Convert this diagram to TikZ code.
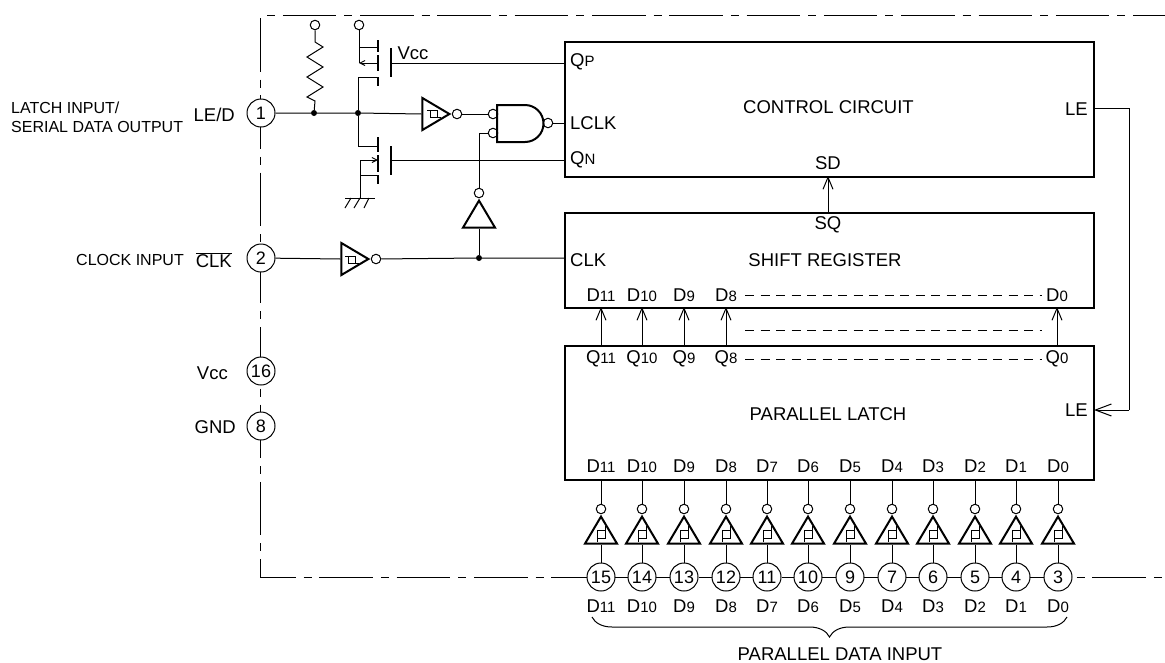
\documentclass[tikz,border=0pt]{standalone}
\usepackage{fontspec}
\setmainfont{Liberation Sans}
\usetikzlibrary{arrows.meta,positioning,calc,shapes.geometric,decorations.pathreplacing}
\newcommand{\lblsub}[2]{#1{\fontsize{15}{15}\selectfont #2}}
\tikzset{
  wire/.style={line width=1pt},
  bluebox/.style={draw, line width=2.4pt, anchor=north west, inner sep=0pt},
  pin/.style={draw, circle, fill=white, line width=1pt, minimum size=28pt, inner sep=0pt, font=\fontsize{18}{18}\selectfont},
  bubble/.style={draw, circle, fill=white, line width=1pt, minimum size=9.5pt, inner sep=0pt},
  joint/.style={circle, fill=black, minimum size=6pt, inner sep=0pt},
  lbl/.style={inner sep=0pt, font=\fontsize{18.5}{18.5}\selectfont},
  smalllbl/.style={inner sep=0pt, font=\fontsize{16}{16}\selectfont, anchor=west},
  buf/.style={draw, isosceles triangle, isosceles triangle stretches, line width=2pt, inner sep=0pt, minimum width=32pt, minimum height=27pt, fill=white},
  bar/.style={line width=1.8pt},
  barb/.style={-{Straight Barb[length=12pt,width=10pt,line width=1pt]}},
  dashrow/.style={wire, dash pattern=on 9pt off 6.5pt},
  outline/.style={wire, dash pattern=on 53.5pt off 8pt on 8pt off 7.8pt}
}
\begin{document}
\begin{tikzpicture}[x=1pt,y=-1pt]
  \useasboundingbox (0,0) rectangle (1165,662);
  % package outline
  \coordinate (tr) at (1165,15);
  \coordinate (tl) at (260,15);
  \coordinate (bl) at (260,577);
  \coordinate (br) at (1165,577);
  \draw[outline, dash phase=54.5pt] (tl) -- (tr);
  \draw[outline, dash phase=74.3pt] (tl) -- (bl) -- (br);

  % blocks
  \node[bluebox, minimum width=529pt, minimum height=135pt] (ctrl) at (564,40.5) {};
  \node[bluebox, minimum width=528.5pt, minimum height=95pt] (shift) at (564,212) {};
  \node[bluebox, minimum width=529pt, minimum height=134pt] (latch) at (564,345) {};
  \node[lbl] at (828.5,107) {CONTROL CIRCUIT};
  \node[lbl] at (825,260) {SHIFT REGISTER};
  \node[lbl] at (828,414) {PARALLEL LATCH};
  \node[lbl, anchor=west] at (570,62) {Q\lblsub{}{P}};
  \node[lbl, anchor=west] at (570,123) {LCLK};
  \node[lbl, anchor=west] at (570,160) {Q\lblsub{}{N}};
  \node[lbl, anchor=east] at (1088,109) {LE};
  \node[lbl] at (828,163) {SD};
  \node[lbl] at (828,225) {SQ};
  \node[lbl, anchor=west] at (570,260) {CLK};
  \node[lbl, anchor=east] at (1088,410) {LE};
  \node[lbl] at (413,53) {Vcc};

  % left pins
  \node[pin] (p1) at (261,113) {1};
  \node[pin] (p2) at (261,258) {2};
  \node[pin] (p16) at (261,371) {16};
  \node[pin] (p8) at (261,426) {8};
  \node[smalllbl] at (11,108) {LATCH INPUT/};
  \node[smalllbl] at (11,127) {SERIAL DATA OUTPUT};
  \node[lbl, anchor=east] at (235,115) {LE/D};
  \node[smalllbl, anchor=east] at (184,260) {CLOCK INPUT};
  \node[lbl, anchor=east] at (232,260) {$\overline{\mbox{CLK}}$};
  \node[lbl, anchor=east] at (228,373) {Vcc};
  \node[lbl, anchor=east] at (236,427) {GND};

  % pull-up resistor
  \node[bubble] (rtop) at (315,25) {};
  \node[joint] (j1) at (314,113) {};
  \node[joint] (j2) at (358,113) {};
  \draw[wire] (rtop) -- (315,42) -- (323,47) -- (307,57) -- (323,67) -- (307,77) -- (323,87) -- (307,97) -- (315,101) -- (j1);

  % output transistors
  \node[bubble] (ptop) at (359,25) {};
  \coordinate (pd) at (378,47);
  \coordinate (pb) at (378,63);
  \coordinate (ps) at (378,77);
  \coordinate (nd) at (378,146);
  \coordinate (nb) at (378,160);
  \coordinate (ns) at (378,175);
  \coordinate (gnd) at (360,198);
  \draw[bar] (378,40) -- (378,52) (378,55) -- (378,71) (378,77) -- (378,86);
  \draw[bar] (391,48) -- (391,77);
  \draw[bar] (378,137) -- (378,152) (378,155) -- (378,172) (378,175) -- (378,184);
  \draw[bar] (391,146) -- (391,175);
  \draw[wire] (ptop) -- (359,47) -- (pd);
  \draw[wire] (359,47) -- (359,63);
  \draw[wire, -{Straight Barb[length=5pt,width=5pt]}] (pb) -- (359,63);
  \draw[wire] (j2) -- (358,77) -- (ps);
  \draw[wire] (j2) -- (358,146) -- (nd);
  \draw[wire, -{Straight Barb[length=5pt,width=5pt]}] (gnd |- nb) -- (nb);
  \draw[wire] (gnd) -- (gnd |- nb);
  \draw[wire] (gnd |- ns) -- (ns);
  \draw[wire] (345,198) -- (375,198);
  \draw[wire] (351,198) -- (345,208) (360,198) -- (354,208) (369,198) -- (364,208);
  \draw[wire] (391,63) -- (564,63);
  \draw[wire] (391,160) -- (564,160);

  % inverters and gate
  \node[buf, anchor=apex, shape border rotate=0] (inva) at (452,114) {};
  \node[bubble] (invao) at (457,114) {};
  \node[buf, anchor=apex, shape border rotate=0] (invb) at (371,259) {};
  \node[bubble] (invbo) at (376,259) {};
  \node[buf, anchor=apex, shape border rotate=90] (invc) at (479,198) {};
  \node[bubble] (invco) at (479,193) {};
  \draw[line width=0.8pt] (427,110) -- (437,110) -- (437,117) -- (441,117) (430,110) -- (430,117) -- (437,117);
  \draw[line width=0.8pt] (345,256) -- (355,256) -- (355,263) -- (359,263) (348,256) -- (348,263) -- (355,263);
  \node[bubble] (nandia) at (493,114) {};
  \node[bubble] (nandib) at (493,133) {};
  \node[bubble] (nando) at (548,123) {};
  \draw[line width=2pt] (497,105) -- (525,105) arc (-90:90:18.5) -- (497,142) -- cycle;
  \node[joint] (j3) at (479,258) {};
  \draw[wire] (p1) -- (j1) -- (j2) -- (inva.lower side);
  \draw[wire] (invao) -- (nandia);
  \draw[wire] (nando) -- (564,123);
  \draw[wire] (invco) -- (479,133) -- (nandib);
  \draw[wire] (invc.lower side) -- (j3);
  \draw[wire] (p2) -- (invb.lower side);
  \draw[wire] (invbo) -- (j3) -- (564,258);

  % block links
  \draw[wire, barb] (828,212) -- (828,176);
  \draw[wire] (1093,108) -- (1129,108) -- (1129,410);
  \draw[wire, -{Straight Barb[length=16pt,width=12pt,line width=1pt]}] (1129,410) -- (1094,410);

  % shift register and latch rows
  \foreach \xpos/\idx in {601/11,642/10,684/9,726/8,1057/0} {
    \draw[wire, barb] (\xpos,345) -- (\xpos,307);
    \node[lbl] at (\xpos,295) {\lblsub{D}{\idx}};
    \node[lbl] at (\xpos,359) {\lblsub{Q}{\idx}};
  }
  \draw[dashrow] (745,295) -- (1042,295);
  \draw[dashrow] (745,330) -- (1042,330);
  \draw[dashrow] (745,359) -- (1042,359);

  % parallel inputs
  \foreach \xpos/\pinno/\idx in {601/15/11,642/14/10,684/13/9,726/12/8,767/11/7,808/10/6,850/9/5,892/7/4,933/6/3,975/5/2,1016/4/1,1058/3/0} {
    \node[lbl] at (\xpos,466) {\lblsub{D}{\idx}};
    \node[lbl] at (\xpos,606) {\lblsub{D}{\idx}};
    \node[bubble] (ob\pinno) at (\xpos,509) {};
    \node[buf, anchor=apex, shape border rotate=90] (ib\pinno) at (\xpos,514) {};
    \draw[line width=0.8pt] (\xpos-4,530) rectangle (\xpos+4,538);
    \draw[line width=0.8pt] (\xpos+4,526) -- (\xpos+4,530) (\xpos-4,538) -- (\xpos-4,542);
    \node[pin] (ip\pinno) at (\xpos,577) {\pinno};
    \draw[wire] (ob\pinno) -- (\xpos,479);
    \draw[wire] (ib\pinno.lower side) -- (ip\pinno);
  }
  \draw[wire] (ip15) -- (ip14) (ip14) -- (ip13) (ip13) -- (ip12) (ip12) -- (ip11) (ip11) -- (ip10) (ip10) -- (ip9) (ip9) -- (ip7) (ip7) -- (ip6) (ip6) -- (ip5) (ip5) -- (ip4) (ip4) -- (ip3);

  % input brace
  \coordinate (bra) at (592,617);
  \coordinate (brb) at (1067,617);
  \draw[wire, decorate, decoration={brace, mirror, amplitude=20pt}] (bra) -- (brb);
  \node[lbl] at (840,654) {PARALLEL DATA INPUT};
\end{tikzpicture}
\end{document}
